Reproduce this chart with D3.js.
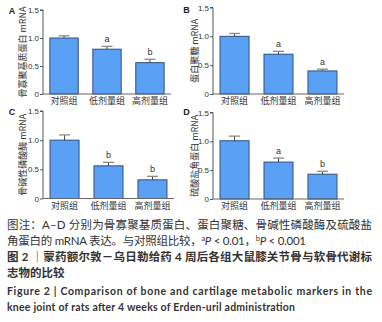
<!DOCTYPE html>
<html><head><meta charset="utf-8">
<script src="https://cdn.jsdelivr.net/npm/d3@7"></script>
<style>
body{margin:0;background:#fff;}
svg{display:block;}
</style></head>
<body><svg id="c" width="382" height="322"></svg>
<script>
const groups = ["对照组", "低剂量组", "高剂量组"];
const panelLabels = ["A", "B", "C", "D"];
const yTitles = ["骨寡聚基质蛋白 mRNA", "蛋白聚糖 mRNA", "骨碱性磷酸酶 mRNA", "硫酸盐角蛋白 mRNA"];
const valuesA = [1.00, 0.80, 0.56];
const valuesB = [1.00, 0.69, 0.40];
const valuesC = [1.00, 0.56, 0.32];
const valuesD = [1.01, 0.64, 0.43];
const errorsA = [0.04, 0.05, 0.06];
const errorsB = [0.05, 0.05, 0.03];
const errorsC = [0.09, 0.06, 0.06];
const errorsD = [0.08, 0.07, 0.05];
const lettersA = ["", "a", "b"];
const lettersB = ["", "a", "a"];
const lettersC = ["", "b", "b"];
const lettersD = ["", "a", "b"];
const yTicks = [0, 0.5, 1.0, 1.5];
const yTickLabels = ["0", "0.5", "1.0", "1.5"];

const values = [valuesA, valuesB, valuesC, valuesD];
const errors = [errorsA, errorsB, errorsC, errorsD];
const letters = [lettersA, lettersB, lettersC, lettersD];

const layout = [
  {x0: 43, x1: 171, yT: 10, y0: 94, lx: 12, ly: 14, tx: 22},
  {x0: 213, x1: 344, yT: 7.5, y0: 94, lx: 186.5, ly: 13, tx: 194.5},
  {x0: 43, x1: 174, yT: 111, y0: 198.5, lx: 12, ly: 115, tx: 22},
  {x0: 213, x1: 344, yT: 112.5, y0: 199, lx: 186.5, ly: 115, tx: 194.5}
];

const svg = d3.select("#c");
const chartFont = "'Liberation Sans', Arial, sans-serif";
const cjk = "'Noto Sans CJK SC', sans-serif";

layout.forEach((L, i) => {
  const g = svg.append("g");
  const x = d3.scaleBand().domain(groups).range([L.x0, L.x1]).paddingInner(0.34).paddingOuter(0.16);
  const y = d3.scaleLinear().domain([0, 1.5]).range([L.y0, L.yT]);

  g.selectAll("rect.bar").data(groups).join("rect")
    .attr("x", d => x(d)).attr("width", x.bandwidth())
    .attr("y", (d, j) => y(values[i][j]))
    .attr("height", (d, j) => y(0) - y(values[i][j]))
    .attr("fill", "#5aa0f5").attr("stroke", "#2f4f7f").attr("stroke-width", 1);

  groups.forEach((d, j) => {
    const cx = x(d) + x.bandwidth() / 2;
    const top = y(values[i][j] + errors[i][j]);
    g.append("line").attr("x1", cx).attr("x2", cx).attr("y1", y(values[i][j])).attr("y2", top)
      .attr("stroke", "#444").attr("stroke-width", 1);
    g.append("line").attr("x1", cx - 5.5).attr("x2", cx + 5.5).attr("y1", top).attr("y2", top)
      .attr("stroke", "#8a8a8a").attr("stroke-width", 1.3);
    if (letters[i][j]) {
      g.append("text").attr("x", cx).attr("y", top - 4.5).attr("text-anchor", "middle")
        .attr("font-family", chartFont).attr("font-size", 9).attr("fill", "#333")
        .text(letters[i][j]);
    }
  });

  const ya = d3.axisLeft(y).tickValues(yTicks).tickFormat((d, k) => yTickLabels[k]).tickSize(3).tickPadding(1);
  const ag = g.append("g").attr("transform", `translate(${L.x0},0)`).call(ya);
  ag.select(".domain").attr("stroke", "#555").attr("d", `M-3,${L.yT}H0V${L.y0}`);
  ag.selectAll(".tick line").attr("stroke", "#555");
  ag.selectAll(".tick text").attr("font-family", chartFont).attr("font-size", 8).attr("fill", "#333");

  const xa = d3.axisBottom(x).tickSize(0).tickPadding(4);
  const xg = g.append("g").attr("transform", `translate(0,${L.y0})`).call(xa);
  xg.select(".domain").attr("stroke", "#666").attr("d", `M${L.x0},0H${L.x1}`);
  xg.selectAll(".tick text").attr("font-family", cjk).attr("font-size", 9).attr("fill", "#333");

  g.append("text").attr("transform", `translate(${L.tx},${(L.yT + L.y0) / 2}) rotate(-90)`)
    .attr("text-anchor", "middle").attr("dominant-baseline", "central")
    .attr("font-family", cjk).attr("font-size", 9).attr("fill", "#333")
    .text(yTitles[i]);

  g.append("text").attr("x", L.lx).attr("y", L.ly).attr("text-anchor", "middle")
    .attr("font-family", chartFont).attr("font-weight", "bold").attr("font-size", 9).attr("fill", "#222")
    .text(panelLabels[i]);
});

const cap = svg.append("g").attr("font-family", "Lato, " + cjk);
function line(y, parts, opts) {
  const t = cap.append("text").attr("x", 7).attr("y", y).attr("font-size", opts.size)
    .attr("fill", opts.color).attr("font-weight", opts.bold ? "bold" : "normal");
  if (opts.len) t.attr("textLength", opts.len).attr("lengthAdjust", "spacing");
  parts.forEach(p => {
    const s = t.append("tspan").text(p.t);
    if (p.sup) s.attr("font-size", opts.size * 0.65).attr("baseline-shift", "super");
    if (p.i) s.attr("font-style", "italic");
  });
}
line(229, [{t: "图注：A–D 分别为骨寡聚基质蛋白、蛋白聚糖、骨碱性磷酸酶及硫酸盐"}], {size: 11.5, color: "#333", len: 365});
line(245, [{t: "角蛋白的 mRNA 表达。与对照组比较，"}, {t: "a", sup: true}, {t: "P", i: true}, {t: " < 0.01，"}, {t: "b", sup: true}, {t: "P", i: true}, {t: " < 0.001"}], {size: 11.5, color: "#333", len: 299});
line(261, [{t: "图 2 ｜蒙药额尔敦－乌日勒给药 4 周后各组大鼠膝关节骨与软骨代谢标"}], {size: 11.5, color: "#333", bold: true, len: 365});
line(277, [{t: "志物的比较"}], {size: 11.5, color: "#333", bold: true});
line(295, [{t: "Figure 2   |   Comparison of bone and cartilage metabolic markers in the"}], {size: 10.5, color: "#333", bold: true, len: 365});
line(311, [{t: "knee joint of rats after 4 weeks of Erden-uril administration"}], {size: 10.5, color: "#333", bold: true, len: 288});
</script></body></html>
